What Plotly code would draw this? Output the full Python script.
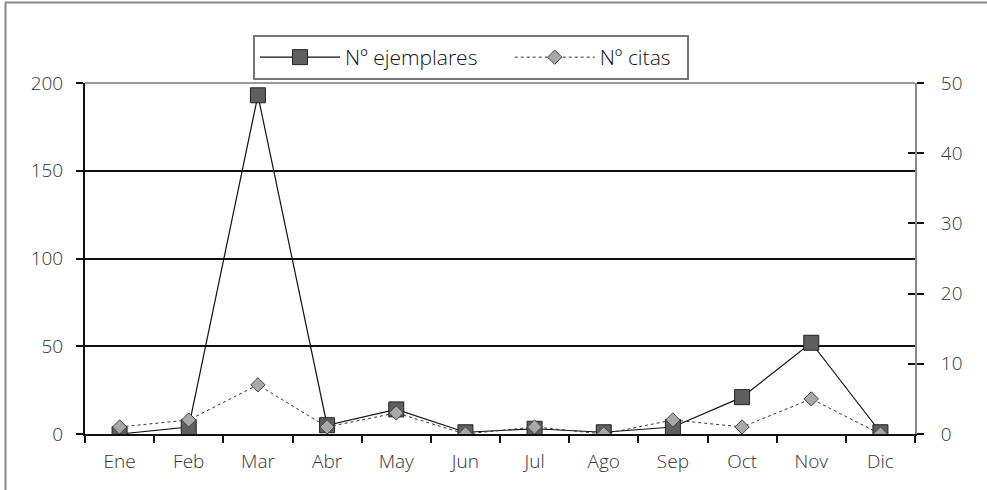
import plotly.graph_objects as go

months = ['Ene', 'Feb', 'Mar', 'Abr', 'May', 'Jun', 'Jul', 'Ago', 'Sep', 'Oct', 'Nov', 'Dic']
ejemplares = [0, 4, 193, 5, 14, 1, 3, 1, 4, 21, 52, 1]
citas = [1, 2, 7, 1, 3, 0, 1, 0, 2, 1, 5, 0]
left_ticks = [0, 50, 100, 150, 200]
right_ticks = [0, 10, 20, 30, 40, 50]
series_names = ['Nº ejemplares', 'Nº citas']

FONT = "'Open Sans', Lato, sans-serif"
PAD1 = '\u00a0' * 5
PAD2 = '\u00a0' * 2

fig = go.Figure()
# citas first so the squares are drawn on top
fig.add_trace(go.Scatter(
    x=months, y=citas, name=series_names[1] + PAD2, mode='lines+markers', legendrank=2,
    line=dict(color='#333333', width=1, dash='dot'),
    marker=dict(symbol='diamond', size=11, color='#a8a8a8', line=dict(color='#444444', width=1)),
    yaxis='y2'))
fig.add_trace(go.Scatter(
    x=months, y=ejemplares, name=series_names[0] + PAD1, mode='lines+markers', legendrank=1,
    line=dict(color='#111111', width=1.2),
    marker=dict(symbol='square', size=15, color='#5f5f5f', line=dict(color='#222222', width=1)),
    yaxis='y'))
fig.add_trace(go.Scatter(x=months, y=citas, yaxis='y3', mode='none', showlegend=False, hoverinfo='skip'))

W, H = 987, 490
L, R, T, B = 85, 72, 83, 56
pw, ph = W - L - R, H - T - B

def px_x(x):
    return (x - L) / pw

def px_y(y):
    return (H - B - y) / ph

shapes = [
    dict(type='line', xref='paper', yref='paper', x0=0, x1=1, y0=1, y1=1,
         line=dict(color='#999999', width=2)),
    dict(type='line', xref='paper', yref='paper', x0=px_x(5), x1=px_x(987), y0=px_y(2.5), y1=px_y(2.5),
         line=dict(color='#888888', width=2)),
    dict(type='line', xref='paper', yref='paper', x0=px_x(5.5), x1=px_x(5.5), y0=px_y(2.5), y1=px_y(490),
         line=dict(color='#888888', width=2)),
]

tickfont = dict(family=FONT, size=19, color='#333333', weight=300)

fig.update_layout(
    width=W, height=H,
    margin=dict(l=L, r=R, t=T, b=B, autoexpand=False),
    paper_bgcolor='white', plot_bgcolor='white',
    font=dict(family=FONT, size=18, color='#222222'),
    showlegend=True,
    legend=dict(orientation='h', x=px_x(253), y=px_y(35), xanchor='left', yanchor='top',
                bordercolor='#777777', borderwidth=2, bgcolor='white',
                font=dict(family=FONT, size=21, color='#111111', weight=300),
                itemwidth=80, traceorder='normal'),
    xaxis=dict(type='category', range=[-0.5, 11.5], showline=True, linecolor='#111111', linewidth=2,
               ticks='outside', ticklen=7, tickwidth=2, tickcolor='#111111', tickson='boundaries',
               showgrid=False, zeroline=False, tickfont=tickfont, ticklabelstandoff=9),
    yaxis=dict(range=[0, 200], tickvals=left_ticks, showline=True, linecolor='#111111', linewidth=2,
               ticks='outside', ticklen=7, tickwidth=2, tickcolor='#111111',
               showgrid=True, gridcolor='#111111', gridwidth=1.5, zeroline=False,
               tickfont=tickfont, ticklabelstandoff=9),
    yaxis2=dict(range=[0, 50], tickvals=right_ticks, overlaying='y', side='right', anchor='x',
                showline=True, linecolor='#888888', linewidth=2,
                ticks='outside', ticklen=7, tickwidth=2, tickcolor='#111111',
                showgrid=False, zeroline=False, tickfont=tickfont, ticklabelstandoff=13),
    yaxis3=dict(range=[0, 50], tickvals=right_ticks, overlaying='y', side='right', anchor='x',
                showline=False, ticks='inside', ticklen=7, tickwidth=2, tickcolor='#111111',
                showticklabels=False, showgrid=False, zeroline=False),
    shapes=shapes,
)

fig.write_html("out.html", config={'displayModeBar': False},
               post_script="document.body.style.margin='0';document.body.style.overflow='hidden';")
